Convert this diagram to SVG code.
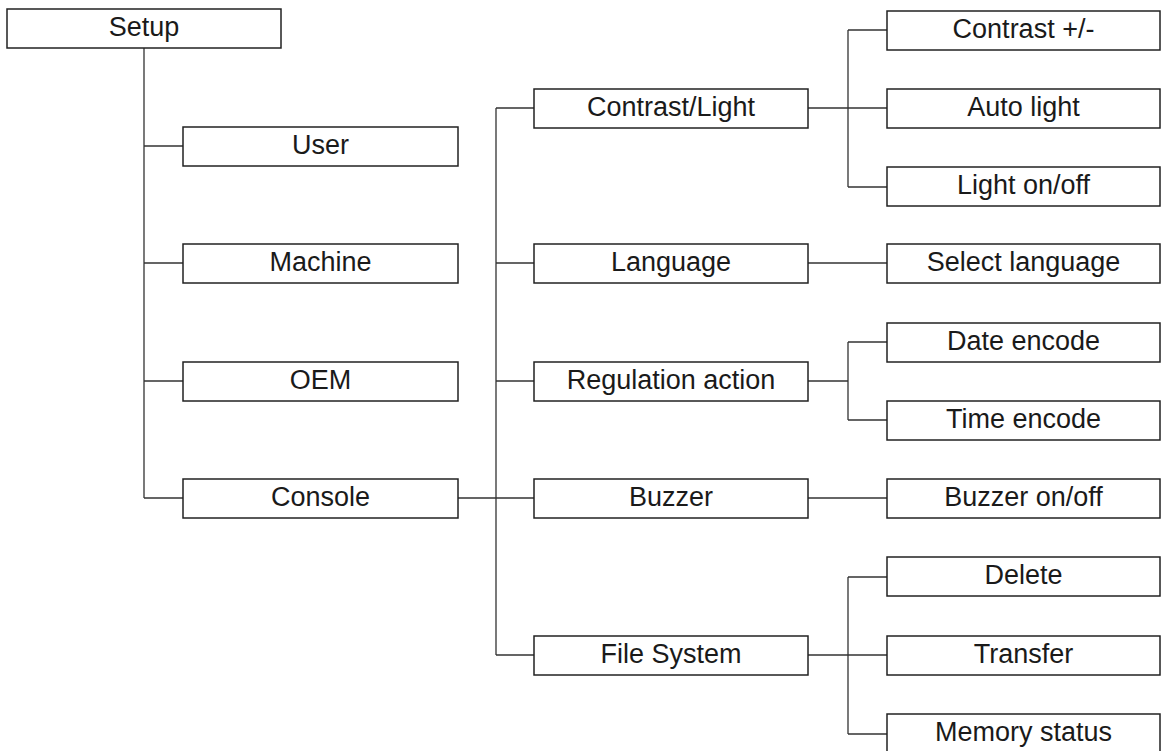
<svg xmlns="http://www.w3.org/2000/svg" width="1162" height="751" viewBox="0 0 1162 751">
<style>
.box{fill:#fff;stroke:#222;stroke-width:1.5}
.lbl{font-family:"Liberation Sans",Arial,sans-serif;font-size:27px;fill:#1a1a1a;text-anchor:middle}
.ln{fill:none;stroke:#333;stroke-width:1.3}
</style>
<rect width="1162" height="751" fill="#fff"/>
<g id="connectors">
<path class="ln" d="M144 48V498M144 146H183M144 263H183M144 381H183M144 498H183"/>
<path class="ln" d="M458 498H534M496 108V655M496 108H534M496 263H534M496 381H534M496 655H534"/>
<path class="ln" d="M808 108H887M848 30V187M848 30H887M848 187H887"/>
<path class="ln" d="M808 263H887"/>
<path class="ln" d="M808 381H848M848 342V420M848 342H887M848 420H887"/>
<path class="ln" d="M808 498H887"/>
<path class="ln" d="M808 655H887M848 577V734M848 577H887M848 734H887"/>
</g>
<g id="setup"><rect class="box" x="7" y="9" width="274" height="39"/><text class="lbl" x="144" y="36">Setup</text></g>
<g id="user"><rect class="box" x="183" y="127" width="275" height="39"/><text class="lbl" x="320.5" y="154">User</text></g>
<g id="machine"><rect class="box" x="183" y="244" width="275" height="39"/><text class="lbl" x="320.5" y="271">Machine</text></g>
<g id="oem"><rect class="box" x="183" y="362" width="275" height="39"/><text class="lbl" x="320.5" y="389">OEM</text></g>
<g id="console"><rect class="box" x="183" y="479" width="275" height="39"/><text class="lbl" x="320.5" y="506">Console</text></g>
<g id="contrast-light"><rect class="box" x="534" y="89" width="274" height="39"/><text class="lbl" x="671" y="116">Contrast/Light</text></g>
<g id="language"><rect class="box" x="534" y="244" width="274" height="39"/><text class="lbl" x="671" y="271">Language</text></g>
<g id="regulation-action"><rect class="box" x="534" y="362" width="274" height="39"/><text class="lbl" x="671" y="389">Regulation action</text></g>
<g id="buzzer"><rect class="box" x="534" y="479" width="274" height="39"/><text class="lbl" x="671" y="506">Buzzer</text></g>
<g id="file-system"><rect class="box" x="534" y="636" width="274" height="39"/><text class="lbl" x="671" y="663">File System</text></g>
<g id="contrast-pm"><rect class="box" x="887" y="11" width="273" height="39"/><text class="lbl" x="1023.5" y="38">Contrast +/-</text></g>
<g id="auto-light"><rect class="box" x="887" y="89" width="273" height="39"/><text class="lbl" x="1023.5" y="116">Auto light</text></g>
<g id="light-onoff"><rect class="box" x="887" y="167" width="273" height="39"/><text class="lbl" x="1023.5" y="194">Light on/off</text></g>
<g id="select-language"><rect class="box" x="887" y="244" width="273" height="39"/><text class="lbl" x="1023.5" y="271">Select language</text></g>
<g id="date-encode"><rect class="box" x="887" y="323" width="273" height="39"/><text class="lbl" x="1023.5" y="350">Date encode</text></g>
<g id="time-encode"><rect class="box" x="887" y="401" width="273" height="39"/><text class="lbl" x="1023.5" y="428">Time encode</text></g>
<g id="buzzer-onoff"><rect class="box" x="887" y="479" width="273" height="39"/><text class="lbl" x="1023.5" y="506">Buzzer on/off</text></g>
<g id="delete"><rect class="box" x="887" y="557" width="273" height="39"/><text class="lbl" x="1023.5" y="584">Delete</text></g>
<g id="transfer"><rect class="box" x="887" y="636" width="273" height="39"/><text class="lbl" x="1023.5" y="663">Transfer</text></g>
<g id="memory-status"><rect class="box" x="887" y="714" width="273" height="39"/><text class="lbl" x="1023.5" y="741">Memory status</text></g>
</svg>
